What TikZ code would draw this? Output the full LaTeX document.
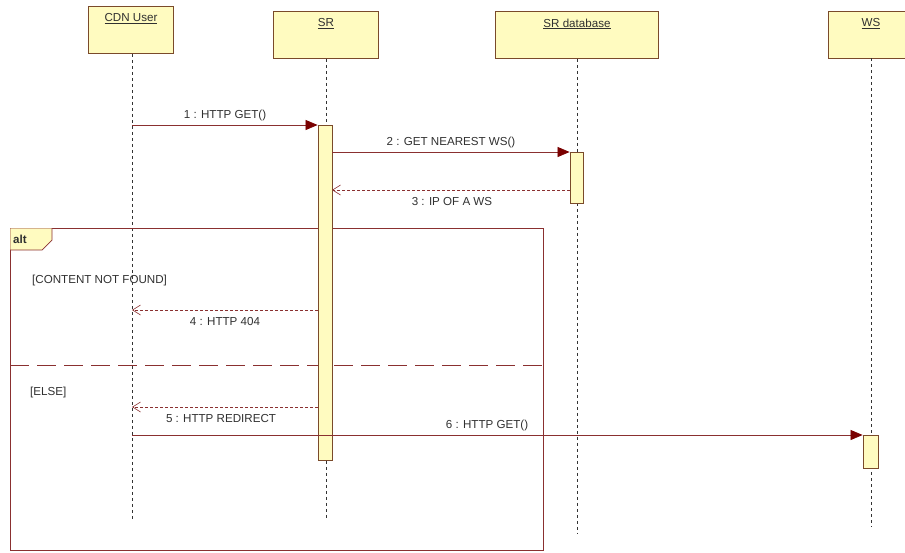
\documentclass[tikz,border=0pt]{standalone}
\usepackage{fontspec}
\setmainfont{Liberation Sans}
\usetikzlibrary{arrows.meta}
\definecolor{boxfill}{HTML}{FFFBC0}
\definecolor{boxline}{HTML}{7A4A2A}
\definecolor{msgline}{HTML}{8A3030}
\definecolor{arrowred}{HTML}{7A0000}
\definecolor{txt}{HTML}{303030}
\tikzset{
  lifebox/.style={draw=boxline, fill=boxfill, line width=0.8pt, minimum height=47pt, anchor=north, inner sep=0pt},
  lifeline/.style={draw=black!80, dash pattern=on 3pt off 3pt, line width=0.7pt},
  actbar/.style={draw=boxline, fill=boxfill, line width=0.8pt, anchor=north, minimum width=14pt, inner sep=0pt},
  call/.style={draw=msgline, line width=0.7pt, -{Triangle[length=12pt,width=10pt,fill=arrowred,color=arrowred]}},
  reply/.style={draw=msgline, line width=0.7pt, dash pattern=on 3pt off 2pt, -{Straight Barb[length=8pt,width=10pt,line width=0.6pt]}},
  lbl/.style={font=\fontsize{11.6}{13}\selectfont, text=txt, inner sep=1pt},
  frame/.style={draw=msgline, line width=0.7pt}
}
\begin{document}
\begin{tikzpicture}[x=1pt,y=-1pt]
\useasboundingbox (0,0) rectangle (905,552);
% lifeline heads
\node[lifebox, minimum width=85pt] (cdn) at (131,6) {};
\node[lbl] (cdnt) at ([yshift=-13pt]cdn.north) {\underline{CDN User}};
\node[lifebox, minimum width=105pt] (sr) at (326,11) {};
\node[lbl] (srt) at ([yshift=-13pt]sr.north) {\underline{SR}};
\node[lifebox, minimum width=163pt] (db) at (577,11) {};
\node[lbl] (dbt) at ([yshift=-13pt]db.north) {\underline{SR database}};
\begin{scope}
\clip (0,0) rectangle (905,552);
\node[lifebox, minimum width=86pt] (ws) at (871,11) {};
\node[lbl] (wst) at ([yshift=-13pt]ws.north) {\underline{WS}};
\end{scope}
% lifeline ends
\coordinate (cdnend) at (132,520);
\coordinate (srend) at (326,520);
\coordinate (dbend) at (577,533);
\coordinate (wsend) at (871,527);
\draw[lifeline] (cdn.south -| cdnend) -- (cdnend);
\draw[lifeline] (sr.south) -- (srend);
\draw[lifeline] (db.south) -- (dbend);
\draw[lifeline] (871,58) -- (wsend);
% alt frame
\draw[frame] (10,228) rectangle (543,550);
\fill[boxfill] (10.4,228.4) -- (52,228.4) -- (52,240) -- (42,250) -- (10.4,250) -- cycle;
\draw[frame] (52,228) -- (52,240) -- (42,250) -- (10,250);
\node[lbl, anchor=west, font=\fontsize{11.6}{13}\selectfont\bfseries] (altlbl) at (12,239) {alt};
\draw[frame, dash pattern=on 19pt off 8pt, line width=0.8pt] (10,365) -- (543,365);
\node[lbl, anchor=west] (g1) at (31,280) {[CONTENT NOT FOUND]};
\node[lbl, anchor=west] (g2) at (29,392) {[ELSE]};
% activation bars
\node[actbar, minimum height=335pt] (srbar) at (325,125) {};
\node[actbar, minimum height=51pt, minimum width=13pt] (dbbar) at (576.5,152) {};
\node[actbar, minimum height=33pt, minimum width=15pt] (wsbar) at (870.5,435) {};
% messages
\coordinate (m1s) at (132,125);
\draw[call] (m1s) -- (srbar.north west);
\node[lbl, anchor=south] at (225,122) {1 : HTTP GET()};
\coordinate (m2s) at (332,152);
\draw[call] (m2s) -- (dbbar.north west);
\node[lbl, anchor=south] at (451,149) {2 : GET NEAREST WS()};
\coordinate (m3s) at (570,190);
\coordinate (m3e) at (332,190);
\draw[reply] (m3s) -- (m3e);
\node[lbl, anchor=north] at (452,196) {3 : IP OF A WS};
\coordinate (m4s) at (318,310);
\coordinate (m4e) at (132,310);
\draw[reply] (m4s) -- (m4e);
\node[lbl, anchor=north] at (225,316) {4 : HTTP 404};
\coordinate (m5s) at (318,407);
\coordinate (m5e) at (132,407);
\draw[reply] (m5s) -- (m5e);
\node[lbl, anchor=north] at (221,413) {5 : HTTP REDIRECT};
\coordinate (m6s) at (132,435);
\draw[call] (m6s) -- (wsbar.north west);
\node[lbl, anchor=south] at (487,432) {6 : HTTP GET()};
\end{tikzpicture}
\end{document}
